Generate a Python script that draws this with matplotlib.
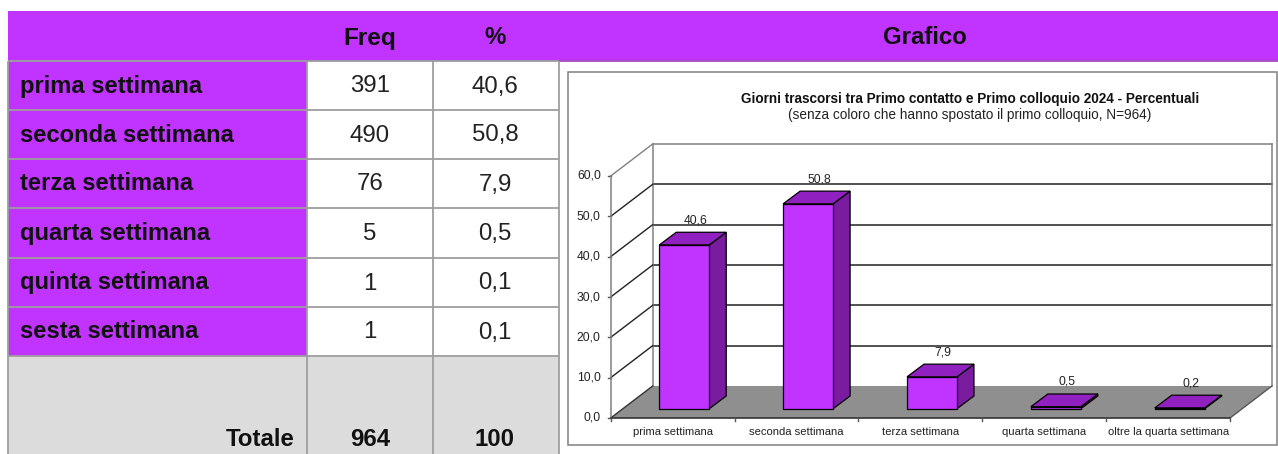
from matplotlib import pyplot as plt
from matplotlib.patches import Polygon, Rectangle

plt.rcParams["font.family"] = ["Liberation Sans", "DejaVu Sans"]

# tabella
row_labels = ["prima settimana", "seconda settimana", "terza settimana",
              "quarta settimana", "quinta settimana", "sesta settimana"]
freq_labels = ["391", "490", "76", "5", "1", "1"]
pct_labels = ["40,6", "50,8", "7,9", "0,5", "0,1", "0,1"]
total_label = "Totale"
total_freq = "964"
total_pct = "100"
header_labels = ["Freq", "%", "Grafico"]

# grafico
categories = ["prima settimana", "seconda settimana", "terza settimana",
              "quarta settimana", "oltre la quarta settimana"]
values = [40.6, 50.8, 7.9, 0.5, 0.2]
value_labels = ["40,6", "50,8", "7,9", "0,5", "0,2"]
y_ticks = [0, 10, 20, 30, 40, 50, 60]
chart_title = "Giorni trascorsi tra Primo contatto e Primo colloquio 2024 - Percentuali"
chart_subtitle = "(senza coloro che hanno spostato il primo colloquio, N=964)"

W, H = 1278, 454
PURPLE = "#c133ff"
TOP_PURPLE = "#9120c0"
SIDE_PURPLE = "#7a1ca0"
GRID = "#9e9e9e"

fig = plt.figure(figsize=(W / 100, H / 100), dpi=100)

# asse di sfondo in pixel per la tabella
bg = fig.add_axes([0, 0, 1, 1])
bg.set_xlim(0, W)
bg.set_ylim(H, 0)
bg.axis("off")

row_y = [61, 110, 159, 208, 258, 307, 356]
col_x = [8, 307, 433, 559]

bg.add_patch(Rectangle((8, 11), W - 8, 50, fc=PURPLE, ec="none"))
bg.add_patch(Rectangle((8, 61), 299, 295, fc=PURPLE, ec="none"))
bg.add_patch(Rectangle((8, 356), 551, H - 356, fc="#dcdcdc", ec="none"))

bg.plot([559, W], [61, 61], color="#a050c0", lw=1.3, solid_capstyle="butt")
for y in row_y:
    bg.plot([8, 559], [y, y], color=GRID, lw=1.3, solid_capstyle="butt")
for x in col_x:
    bg.plot([x, x], [61, H], color=GRID, lw=1.3, solid_capstyle="butt")

for label, x, fs in zip(header_labels, [370, 495, 925], [17.5, 17.3, 17.3]):
    bg.text(x, 44.5, label, fontsize=fs, fontweight="bold", ha="center", va="baseline", color="#111111")

for i, label in enumerate(row_labels):
    yb = (row_y[i] + row_y[i + 1]) / 2 + 7
    bg.text(20, yb, label, fontsize=17.1, fontweight="bold", ha="left", va="baseline", color="#111111")
    bg.text(370, yb, freq_labels[i], fontsize=17.3, ha="center", va="baseline", color="#222222")
    bg.text(495, yb, pct_labels[i], fontsize=17.3, ha="center", va="baseline", color="#222222")

bg.text(295, 446.5, total_label, fontsize=17.3, fontweight="bold", ha="right", va="baseline", color="#111111")
bg.text(370, 446.5, total_freq, fontsize=17.3, fontweight="bold", ha="center", va="baseline", color="#111111")
bg.text(495, 446.5, total_pct, fontsize=17.3, fontweight="bold", ha="center", va="baseline", color="#111111")

# cornice del grafico
bg.add_patch(Rectangle((568, 72), 1277 - 568, 373, fc="white", ec="#808080", lw=1.1))
bg.text(970, 99, chart_title, fontsize=9.8, fontweight="bold", ha="center", va="center", color="#111111")
bg.text(970, 115, chart_subtitle, fontsize=9.8, ha="center", va="center", color="#222222")

# asse del grafico: x = categorie, y = percentuali (vista pseudo-3D)
left, right, bottom, top = 610.7, 1230.0, 418.0, 176.0
ax = fig.add_axes([left / W, 1 - bottom / H, (right - left) / W, (bottom - top) / H])
ax.set_xlim(0, len(categories))
ax.set_ylim(0, 60)
ax.axis("off")

# profondita' in unita' dati
wall_dx, wall_dy = 0.339, 7.94
bar_dx, bar_dy = 0.137, 3.15
base_dx, base_dy = 0.094, 2.3
bar_w = 0.4035
n = len(categories)

ax.add_patch(Polygon([(0, 0), (n, 0), (n + wall_dx, wall_dy), (wall_dx, wall_dy)],
                     fc="#8f8f8f", ec="none", clip_on=False, zorder=1))
for t in y_ticks:
    lc = "#808080" if t == 60 else "#222222"
    if t > 0:
        ax.plot([wall_dx, n + wall_dx], [t + wall_dy, t + wall_dy], color=lc, lw=1.1, clip_on=False, zorder=1)
    ax.plot([0, wall_dx], [t, t + wall_dy], color=lc if t else "#333333", lw=1.0, clip_on=False, zorder=2)
    ax.plot([-0.02, 0], [t, t], color="#555555", lw=1.0, clip_on=False)
    ax.text(-0.08, t, f"{t},0", fontsize=8.7, ha="right", va="center", color="#222222", clip_on=False)

ax.plot([0, 0], [0, 60], color="#808080", lw=1.1, clip_on=False, zorder=2)
ax.plot([wall_dx, wall_dx], [wall_dy, 60 + wall_dy], color="#808080", lw=1.1, clip_on=False, zorder=1)
ax.plot([n + wall_dx, n + wall_dx], [wall_dy, 60 + wall_dy], color="#808080", lw=1.1, clip_on=False, zorder=1)
ax.plot([n, n + wall_dx], [0, wall_dy], color="#555555", lw=1.0, clip_on=False, zorder=2)
ax.plot([0, n], [0, 0], color="#333333", lw=1.2, clip_on=False, zorder=2)

for i in range(n + 1):
    ax.plot([i, i], [-0.8, 0], color="#555555", lw=1.0, clip_on=False)

for i, (cat, val, lab) in enumerate(zip(categories, values, value_labels)):
    x0 = i + 0.5 - bar_w / 2 + base_dx
    x1 = x0 + bar_w
    y0 = base_dy
    y1 = y0 + val
    ax.add_patch(Polygon([(x1, y0), (x1 + bar_dx, y0 + bar_dy), (x1 + bar_dx, y1 + bar_dy), (x1, y1)],
                         fc=SIDE_PURPLE, ec="black", lw=0.9, clip_on=False, zorder=3))
    ax.add_patch(Polygon([(x0, y1), (x1, y1), (x1 + bar_dx, y1 + bar_dy), (x0 + bar_dx, y1 + bar_dy)],
                         fc=TOP_PURPLE, ec="black", lw=0.9, clip_on=False, zorder=3))
    ax.add_patch(Rectangle((x0, y0), bar_w, val, fc=PURPLE, ec="black", lw=0.9, clip_on=False, zorder=4))
    ax.text((x0 + x1) / 2 + 0.09, y1 + bar_dy + 3.0, lab, fontsize=8.7, ha="center", va="center",
            color="#222222", clip_on=False, zorder=5)
    ax.text(i + 0.5, -3.5, cat, fontsize=8.1, ha="center", va="center", color="#222222", clip_on=False)

fig.savefig("out.png", dpi=100)
